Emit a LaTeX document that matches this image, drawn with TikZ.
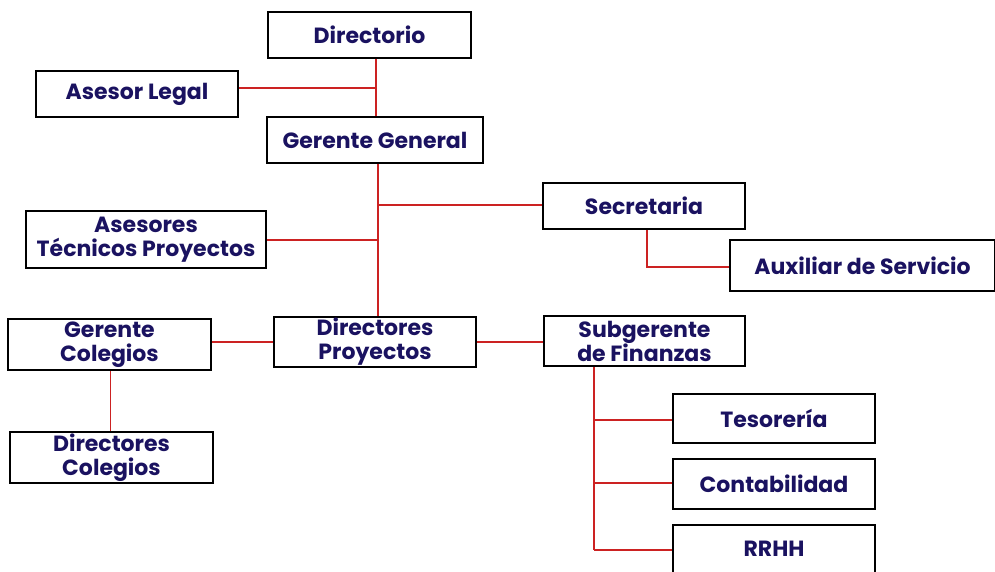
\documentclass[tikz,border=0pt]{standalone}
\usepackage{fontspec}
\setmainfont{Poppins}
\definecolor{txt}{HTML}{1A1260}
\definecolor{lin}{HTML}{CC2222}
\tikzset{
  box/.style={draw=black, line width=1.6pt, fill=white, text=txt, font=\fontsize{22}{24}\selectfont\bfseries, align=center, inner sep=0pt},
  conn/.style={draw=lin, line width=1.7pt}
}
\begin{document}
\begin{tikzpicture}[x=1pt,y=-1pt]
\useasboundingbox (0,0) rectangle (995,571);
\coordinate (j1) at (376,88);
\coordinate (j2) at (378,205);
\coordinate (j3) at (378,240);
\coordinate (s1) at (647,267);
\coordinate (f1) at (594,420);
\coordinate (f2) at (594,483);
\coordinate (f3) at (594,550);
\node[box, minimum width=203, minimum height=46] (dir) at (369.5,35) {Directorio};
\node[box, minimum width=202, minimum height=46] (leg) at (137,94) {Asesor Legal};
\node[box, minimum width=216, minimum height=46] (gg) at (375,140) {Gerente General};
\node[box, minimum width=240, minimum height=57] (atp) at (146,239.5) {Asesores\\Técnicos Proyectos};
\node[box, minimum width=202, minimum height=46] (sec) at (644,206) {Secretaria};
\node[box, minimum width=265, minimum height=51] (aux) at (862.5,265.5) {Auxiliar de Servicio};
\node[box, minimum width=203, minimum height=51] (gc) at (109.5,344.5) {Gerente\\Colegios};
\node[box, minimum width=202, minimum height=50] (dp) at (375,342) {Directores\\Proyectos};
\node[box, minimum width=201, minimum height=50] (sf) at (644.5,341) {Subgerente\\de Finanzas};
\node[box, minimum width=203, minimum height=51] (dc) at (111.5,457.5) {Directores\\Colegios};
\node[box, minimum width=202, minimum height=49] (tes) at (774,418.5) {Tesorería};
\node[box, minimum width=202, minimum height=50] (con) at (774,484) {Contabilidad};
\node[box, minimum width=202, minimum height=48] (rrhh) at (774,549) {RRHH};
\draw[conn] (dir.south -| j1) -- (gg.north -| j1);
\draw[conn] (leg.east |- j1) -- (j1);
\draw[conn] (gg.south -| j2) -- (dp.north -| j2);
\draw[conn] (j2) -- (sec.west |- j2);
\draw[conn] (atp.east |- j3) -- (j3);
\draw[conn] (sec.south -| s1) -- (s1) -- (aux.west |- s1);
\draw[conn] (gc.east |- dp.west) -- (dp.west);
\draw[conn] (dp.east) -- (sf.west |- dp.east);
\draw[conn] ([xshift=-1pt]gc.south -| dc.north) -- ([xshift=-1pt]dc.north);
\draw[conn] (sf.south -| f1) -- (f3);
\draw[conn] (f1) -- (tes.west |- f1);
\draw[conn] (f2) -- (con.west |- f2);
\draw[conn] (f3) -- (rrhh.west |- f3);
\end{tikzpicture}
\end{document}
